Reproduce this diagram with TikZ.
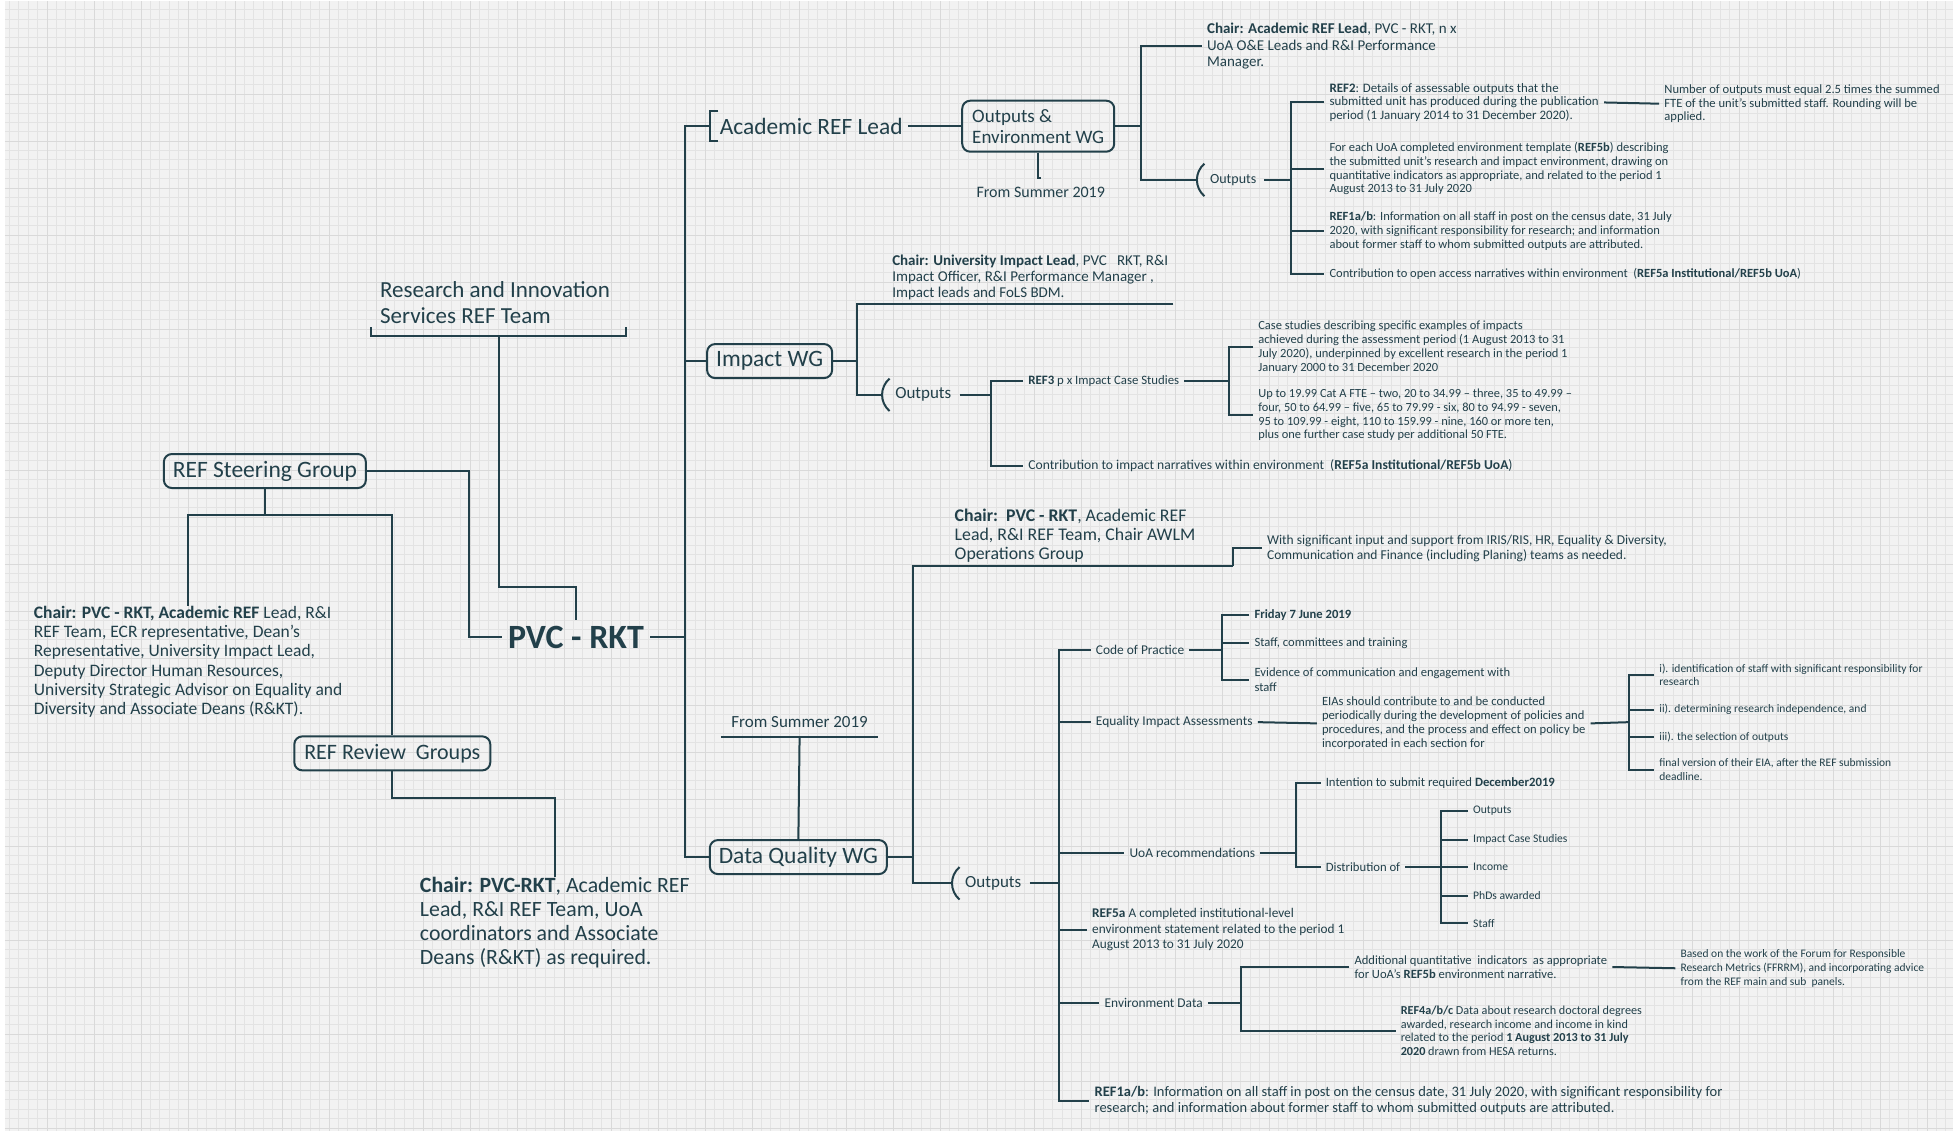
\documentclass[tikz,border=0pt]{standalone}
\usepackage{fontspec}
\setmainfont{Carlito}
\definecolor{ink}{HTML}{22404A}
\definecolor{bgc}{HTML}{F2F2F2}
\definecolor{gmin}{HTML}{E3E3E3}
\definecolor{gmaj}{HTML}{D9D9D9}
\newcommand\oparc[1]{\draw[ln] ([shift={(2,-13)}]#1.west) .. controls ([shift={(-6,-6)}]#1.west) and ([shift={(-6,6)}]#1.west) .. ([shift={(2,13)}]#1.west);}
\begin{document}
\begin{tikzpicture}[x=1.2494pt,y=-1.2494pt,
  ln/.style={draw=ink,line width=2pt,line join=miter},
  tx/.style={anchor=west,align=left,text=ink,inner xsep=5pt,inner ysep=1pt},
  op/.style={anchor=west,align=left,text=ink,inner xsep=8pt,inner ysep=1pt},
  bx/.style={draw=ink,line width=2pt,rounded corners=8pt,text=ink,align=left,inner xsep=0pt,inner ysep=2pt,minimum height=34pt},
  fs/.style 2 args={font=\fontsize{#1}{#2}\selectfont}]
\useasboundingbox (0,0) rectangle (1568,907);
\begin{scope}[x=1pt,y=1pt]
\fill[bgc] (5,-1) rectangle (1953,-1131);
\draw[gmin,line width=0.6pt,step=9.4] (5,-1131) grid (1953,-1);
\draw[gmaj,line width=0.8pt,step=47] (5,-1131) grid (1953,-1);
\end{scope}

% ---------- left part ----------
\node[text=ink,font=\fontsize{34}{40}\selectfont\bfseries,inner xsep=6pt,inner ysep=6pt] (pvc) at (461,510) {PVC - RKT};
\node[bx,fs={23.5}{26},minimum width=202pt] (steer) at (212,377) {REF Steering Group};
\node[bx,fs={22}{26},minimum width=196pt] (review) at (314,603) {REF Review\ \ Groups};
\node[anchor=north west,align=left,text=ink,inner sep=0pt,fs={17.5}{19.2}] (chairL) at (27,485)
 {\textbf{Chair: PVC - RKT, Academic REF} Lead, R\&I\\REF Team, ECR representative, Dean's\\Representative, University Impact Lead,\\Deputy Director Human Resources,\\University Strategic Advisor on Equality and\\Diversity and Associate Deans (R\&KT).};
\node[anchor=north west,align=left,text=ink,inner sep=0pt,fs={21.8}{24}] (chairB) at (336,702)
 {\textbf{Chair: PVC-RKT}, Academic REF\\Lead, R\&I REF Team, UoA\\coordinators and Associate\\Deans (R\&KT) as required.};
\node[anchor=north west,align=left,text=ink,inner sep=0pt,fs={23}{26}] (rist) at (304,225)
 {Research and Innovation\\Services REF Team};
\coordinate (ristb) at (399,269);
\coordinate (sj) at (212,412);
\draw[ln] (297,262) -- (297,269) -- (501,269) -- (501,262);
\draw[ln] (ristb) -- ++(0,201) -| (pvc.north);
\draw[ln] (steer.east) -- ++(82,0) |- (pvc.west);
\draw[ln] (steer.south) -- (sj);
\draw[ln] (chairL.north) |- (sj) -| (review.north);
\draw[ln] (review.south) -- ++(0,21) -| (chairB.north);

% ---------- trunk ----------
\coordinate (trk) at (548,510);
\coordinate (arlbr) at (568,101);
\node[tx,fs={23.4}{28}] (arl) at (572,101) {Academic REF Lead};
\node[bx,fs={23.5}{26},minimum width=125pt] (impact) at (616,289) {Impact WG};
\node[bx,fs={23.5}{26},minimum width=177pt] (dq) at (639,686) {Data Quality WG};
\draw[ln] (pvc.east) -- (trk);
\draw[ln] (arlbr) -| (trk) |- (dq.west);
\draw[ln] (trk |- impact.west) -- (impact.west);
\draw[ln] (575,89) -- (568,89) -- (568,113) -- (575,113);

% ---------- Outputs & Environment WG ----------
\node[bx,fs={19}{21},minimum width=152pt,minimum height=51pt] (oew) at (831,101) {Outputs \&\\Environment WG};
\node[text=ink,fs={16}{18}] (fs1) at (833,154) {From Summer 2019};
\draw[ln] (arl.east) -- (oew.west);
\draw[ln] (oew.south) -- ++(0,20) -- ++(2,0);
\coordinate (oej) at (913,101);
\node[tx,fs={15}{16.5}] (chairOE) at (962,37) {\textbf{Chair: Academic REF Lead}, PVC - RKT, n x\\UoA O\&E Leads and R\&I Performance\\Manager.};
\node[op,fs={14}{16}] (out1) at (962,144) {Outputs};
\draw[ln] (oew.east) -- (oej);
\draw[ln] (chairOE.west) -| (oej) |- ([xshift=-5pt]out1.west);
\oparc{out1}
\coordinate (o1j) at (1033,144);
\node[tx,fs={12.9}{13.8}] (ref2) at (1060,82) {\textbf{REF2}: Details of assessable outputs that the\\submitted unit has produced during the publication\\period (1 January 2014 to 31 December 2020).};
\node[tx,fs={12.5}{13.8}] (r5b) at (1060,135) {For each UoA completed environment template (\textbf{REF5b}) describing\\the submitted unit's research and impact environment, drawing on\\quantitative indicators as appropriate, and related to the period 1\\August 2013 to 31 July 2020};
\node[tx,fs={12.5}{13.8}] (r1a) at (1060,185) {\textbf{REF1a/b}: Information on all staff in post on the census date, 31 July\\2020, with significant responsibility for research; and information\\about former staff to whom submitted outputs are attributed.};
\node[tx,fs={12.5}{14}] (oa) at (1060,219) {Contribution to open access narratives within environment\ \ (\textbf{REF5a Institutional/REF5b UoA})};
\node[tx,fs={12.6}{13.8}] (nout) at (1328,83) {Number of outputs must equal 2.5 times the summed\\FTE of the unit's submitted staff. Rounding will be\\applied.};
\draw[ln] (out1.east) -- (o1j);
\draw[ln] (ref2.west) -| (o1j) |- (oa.west);
\draw[ln] (o1j |- r5b.west) -- (r5b.west);
\draw[ln] (o1j |- r1a.west) -- (r1a.west);
\draw[ln] (ref2.east) -- (nout.west);

% ---------- Impact WG ----------
\coordinate (imj) at (686,289);
\node[anchor=south west,align=left,text=ink,inner xsep=5pt,inner ysep=3pt,fs={15}{16.3}] (chairImp) at (710,243)
 {\textbf{Chair: University Impact Lead}, PVC\ \ \ RKT, R\&I\\Impact Officer, R\&I Performance Manager ,\\Impact leads and FoLS BDM.};
\node[op,fs={17}{20}] (out2) at (710,316) {Outputs};
\draw[ln] (impact.east) -- (imj);
\draw[ln] (chairImp.south east) -| (imj) |- ([xshift=-5pt]out2.west);
\oparc{out2}
\coordinate (o2j) at (793,316);
\node[tx,fs={12.8}{14}] (ref3) at (819,305) {\textbf{REF3} p x Impact Case Studies};
\node[tx,fs={13.6}{14}] (cimp) at (819,373) {Contribution to impact narratives within environment\ \ (\textbf{REF5a Institutional/REF5b UoA})};
\draw[ln] (out2.east) -- (o2j);
\draw[ln] (ref3.west) -| (o2j) |- (cimp.west);
\coordinate (r3j) at (984,305);
\node[tx,fs={12.5}{13.8}] (case) at (1003,278) {Case studies describing specific examples of impacts\\achieved during the assessment period (1 August 2013 to 31\\July 2020), underpinned by excellent research in the period 1\\January 2000 to 31 December 2020};
\node[tx,fs={12.4}{13.8}] (upto) at (1003,332) {Up to 19.99 Cat A FTE -- two, 20 to 34.99 -- three, 35 to 49.99 --\\four, 50 to 64.99 -- five, 65 to 79.99 - six, 80 to 94.99 - seven,\\95 to 109.99 - eight, 110 to 159.99 - nine, 160 or more ten,\\plus one further case study per additional 50 FTE.};
\draw[ln] (ref3.east) -- (r3j);
\draw[ln] (case.west) -| (r3j) |- (upto.west);

% ---------- Data Quality WG ----------
\node[text=ink,fs={17}{20}] (fs2) at (640,578) {From Summer 2019};
\coordinate (fsu) at (640,590);
\draw[ln] (577,590) -- (703,590);
\draw[ln] (fsu) -- (dq.north);
\coordinate (dqj) at (731,686);
\coordinate (dqk) at (987,453);
\node[anchor=south west,align=left,text=ink,inner xsep=5pt,inner ysep=3pt,fs={17.8}{19}] (chairDQ) at (760,453)
 {\textbf{Chair:\ \ PVC - RKT}, Academic REF\\Lead, R\&I REF Team, Chair AWLM\\Operations Group};
\node[tx,fs={13.5}{15}] (with) at (1010,439) {With significant input and support from IRIS/RIS, HR, Equality \& Diversity,\\Communication and Finance (including Planing) teams as needed.};
\node[op,fs={17}{20}] (out3) at (766,707) {Outputs};
\draw[ln] (dq.east) -- (dqj);
\draw[ln] (dqk) -| (dqj) |- ([xshift=-5pt]out3.west);
\draw[ln] (dqk) |- (with.west);
\oparc{out3}
\coordinate (o3j) at (848,707);
\node[tx,fs={13.4}{16}] (cop) at (873,520) {Code of Practice};
\node[tx,fs={13.4}{16}] (eia) at (873,578) {Equality Impact Assessments};
\node[tx,fs={13.4}{16}] (uoa) at (900,683) {UoA recommendations};
\node[tx,fs={13.3}{15.6}] (ref5a) at (870,744) {\textbf{REF5a} A completed institutional-level\\environment statement related to the period 1\\August 2013 to 31 July 2020};
\node[tx,fs={13.4}{16}] (env) at (880,803) {Environment Data};
\node[tx,fs={14.5}{16.3}] (ref1b) at (872,881) {\textbf{REF1a/b}: Information on all staff in post on the census date, 31 July 2020, with significant responsibility for\\research; and information about former staff to whom submitted outputs are attributed.};
\draw[ln] (out3.east) -- (o3j);
\draw[ln] (cop.west) -| (o3j) |- (ref1b.west);
\draw[ln] (o3j |- eia.west) -- (eia.west);
\draw[ln] (o3j |- uoa.west) -- (uoa.west);
\draw[ln] (o3j |- ref5a.west) -- (ref5a.west);
\draw[ln] (o3j |- env.west) -- (env.west);

% code of practice
\coordinate (cpj) at (978,520);
\node[tx,fs={12.6}{15}] (fri) at (1000,492) {\textbf{Friday 7 June 2019}};
\node[tx,fs={12.6}{15}] (staff) at (1000,515) {Staff, committees and training};
\node[tx,fs={12.6}{15}] (evid) at (1000,544) {Evidence of communication and engagement with\\staff};
\draw[ln] (cop.east) -- (cpj);
\draw[ln] (fri.west) -| (cpj) |- (evid.west);
\draw[ln] (cpj |- staff.west) -- (staff.west);

% EIA
\node[tx,fs={12.6}{14}] (eias) at (1054,579) {EIAs should contribute to and be conducted\\periodically during the development of policies and\\procedures, and the process and effect on policy be\\incorporated in each section for};
\coordinate (eij) at (1304,578);
\node[tx,fs={11.5}{13.5}] (e1) at (1324,540) {i). identification of staff with significant responsibility for\\research};
\node[tx,fs={11.5}{13.5}] (e2) at (1324,568) {ii). determining research independence, and};
\node[tx,fs={11.5}{13.5}] (e3) at (1324,590) {iii). the selection of outputs};
\node[tx,fs={11.5}{13.5}] (e4) at (1324,616) {final version of their EIA, after the REF submission\\deadline.};
\draw[ln] (eia.east) -- (eias.west);
\draw[ln] (eias.east) -- (eij);
\draw[ln] (e1.west) -| (eij) |- (e4.west);
\draw[ln] (eij |- e2.west) -- (e2.west);
\draw[ln] (eij |- e3.west) -- (e3.west);

% UoA recommendations
\coordinate (uj) at (1037,683);
\node[tx,fs={12.7}{15}] (intn) at (1057,627) {Intention to submit required \textbf{December2019}};
\node[tx,fs={12.7}{15}] (dist) at (1057,694) {Distribution of};
\draw[ln] (uoa.east) -- (uj);
\draw[ln] (intn.west) -| (uj) |- (dist.west);
\coordinate (dj) at (1153,694);
\node[tx,fs={11.6}{14}] (d1) at (1175,649) {Outputs};
\node[tx,fs={11.6}{14}] (d2) at (1175,672) {Impact Case Studies};
\node[tx,fs={11.6}{14}] (d3) at (1175,694) {Income};
\node[tx,fs={11.6}{14}] (d4) at (1175,717) {PhDs awarded};
\node[tx,fs={11.6}{14}] (d5) at (1175,739) {Staff};
\draw[ln] (dist.east) -- (dj);
\draw[ln] (d1.west) -| (dj) |- (d5.west);
\draw[ln] (dj |- d2.west) -- (d2.west);
\draw[ln] (dj) -- (d3.west);
\draw[ln] (dj |- d4.west) -- (d4.west);

% Environment data
\coordinate (ej) at (993,803);
\node[tx,fs={12.6}{14}] (addq) at (1080,774) {Additional quantitative\ \ indicators\ \ as appropriate\\for UoA's \textbf{REF5b} environment narrative.};
\node[tx,fs={12.2}{13.8}] (ref4) at (1117,825) {\textbf{REF4a/b/c} Data about research doctoral degrees\\awarded, research income and income in kind\\related to the period \textbf{1 August 2013 to 31 July}\\\textbf{2020} drawn from HESA returns.};
\node[tx,fs={11.5}{13.7}] (based) at (1341,775) {Based on the work of the Forum for Responsible\\Research Metrics (FFRRM), and incorporating advice\\from the REF main and sub\ \ panels.};
\draw[ln] (env.east) -- (ej);
\draw[ln] (addq.west) -| (ej) |- (ref4.west);
\draw[ln] (addq.east) -- (based.west);
\end{tikzpicture}
\end{document}
